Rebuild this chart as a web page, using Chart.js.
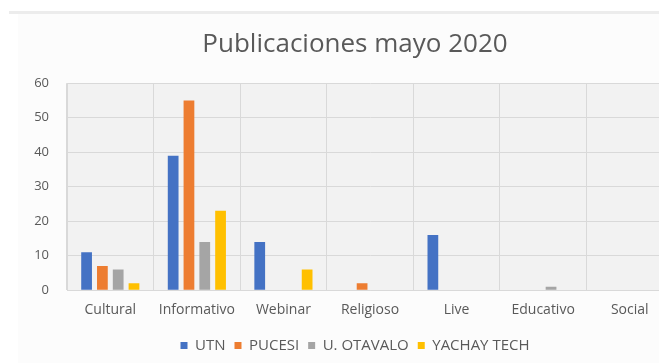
<!DOCTYPE html>
<html>
<head>
<meta charset="utf-8">
<script src="https://cdn.jsdelivr.net/npm/chart.js@4.4.1/dist/chart.umd.min.js"></script>
<style>
  html, body { margin: 0; padding: 0; background: #ffffff; overflow: hidden; width: 659px; height: 363px; }
  #frame { position: absolute; left: 9px; top: 11px; width: 700px; height: 3px; background: #ececec; }
  #panel { position: absolute; left: 18px; top: 14px; width: 700px; height: 349px; background: #fcfcfc; }
  #wrap { position: absolute; left: 0; top: 0; width: 710px; height: 363px; }
</style>
</head>
<body>
<div id="frame"></div>
<div id="panel"></div>
<div id="wrap"><canvas id="c" width="710" height="363"></canvas></div>
<script>
// Publication counts per content type, May 2020
const categories = ['Cultural', 'Informativo', 'Webinar', 'Religioso', 'Live', 'Educativo', 'Social'];
const utn        = [11, 39, 14, 0, 16, 0, 0];
const pucesi     = [7, 55, 0, 2, 0, 0, 0];
const uOtavalo   = [6, 14, 0, 0, 0, 1, 0];
const yachayTech = [2, 23, 6, 0, 0, 0, 0];
const yTicks     = [0, 10, 20, 30, 40, 50, 60];

const textColor = '#595959';
const gridColor = '#d9d9d9';

// light grey fill behind the plotting area
const plotFill = {
  id: 'plotFill',
  beforeDraw(chart) {
    const { ctx, chartArea: a } = chart;
    ctx.save();
    ctx.fillStyle = '#f2f2f2';
    ctx.fillRect(a.left, a.top, a.right - a.left, a.bottom - a.top);
    ctx.restore();
  }
};

function series(label, data, color) {
  return { label, data, backgroundColor: color, borderWidth: 0,
           categoryPercentage: 0.73, barPercentage: 0.68 };
}

new Chart(document.getElementById('c'), {
  type: 'bar',
  data: {
    labels: categories,
    datasets: [
      series('UTN', utn, '#4472C4'),
      series('PUCESI', pucesi, '#ED7D31'),
      series('U. OTAVALO', uOtavalo, '#A5A5A5'),
      series('YACHAY TECH', yachayTech, '#FFC000')
    ]
  },
  options: {
    responsive: false,
    animation: false,
    devicePixelRatio: 1,
    layout: { padding: { left: 0, right: 0, top: 0, bottom: 0 } },
    plugins: {
      title: {
        display: true,
        text: 'Publicaciones mayo 2020',
        color: textColor,
        font: { family: 'Open Sans', size: 26, weight: 'normal' },
        padding: { top: 29, bottom: 23 }
      },
      legend: {
        position: 'bottom',
        labels: {
          color: textColor,
          font: { family: 'Open Sans', size: 15 },
          boxWidth: 7,
          boxHeight: 7,
          padding: 9
        }
      },
      tooltip: { enabled: false }
    },
    scales: {
      x: {
        grid: { display: true, offset: true, color: gridColor, drawTicks: false },
        border: { display: true, color: gridColor },
        ticks: { color: textColor, font: { family: 'Open Sans', size: 14 }, padding: 11, maxRotation: 0 }
      },
      y: {
        min: 0,
        max: 60,
        afterBuildTicks(scale) { scale.ticks = yTicks.map(v => ({ value: v })); },
        afterFit(scale) { scale.width = 67; },
        grid: { color: gridColor, drawTicks: false },
        border: { display: true, color: gridColor },
        ticks: { color: textColor, font: { family: 'Open Sans', size: 13 }, padding: 18 }
      },
      // empty right-hand margin axis: keeps the plot edge where it belongs
      // while title and legend stay centred on the whole frame
      margin: {
        type: 'linear',
        position: 'right',
        display: true,
        afterFit(scale) { scale.width = 37; },
        grid: { display: false },
        border: { display: false },
        ticks: { display: false }
      }
    }
  },
  plugins: [plotFill]
});
</script>
</body>
</html>
